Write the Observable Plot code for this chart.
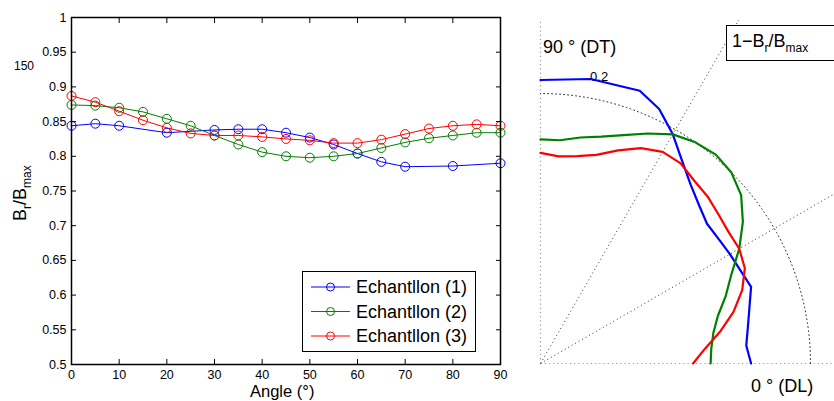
<!DOCTYPE html>
<html><head><meta charset="utf-8">
<script src="https://cdn.jsdelivr.net/npm/d3@7"></script>
<script src="https://cdn.jsdelivr.net/npm/@observablehq/plot@0.6"></script>
<style>
html,body{margin:0;padding:0;background:#fff;}
#wrap{position:relative;width:834px;height:401px;overflow:hidden;font-family:"Liberation Sans",Arial,sans-serif;}
#wrap > svg, #wrap > .p {position:absolute;top:0;}
</style></head><body><div id="wrap"></div>
<script>
// ---- data ----
const anglesFull = [0,5,10,15,20,25,30,35,40,45,50,55,60,65,70,75,80,85,90];
const angles1 = [0,5,10,20,30,35,40,45,50,55,60,65,70,80,90];
const ech1 = [0.844,0.847,0.844,0.834,0.838,0.839,0.839,0.834,0.827,0.817,0.804,0.792,0.785,0.786,0.790];
const ech2 = [0.874,0.873,0.870,0.864,0.854,0.844,0.830,0.817,0.806,0.800,0.798,0.800,0.804,0.812,0.820,0.826,0.830,0.834,0.834];
const ech3 = [0.887,0.878,0.865,0.852,0.841,0.833,0.830,0.830,0.828,0.825,0.823,0.819,0.819,0.824,0.832,0.840,0.844,0.846,0.844];
const seriesNames = ["Echantllon (1)","Echantllon (2)","Echantllon (3)"];
const seriesColors = ["#0000ff","#008000","#ff0000"];
const xTicks = [0,10,20,30,40,50,60,70,80,90];
const yTicks = [0.5,0.55,0.6,0.65,0.7,0.75,0.8,0.85,0.9,0.95,1];
const polarRings = [0.2];
const polarRingLabels = ["0.2"];
const polarSpokesDark = [30,60];
const polarSpokesLight = [0,90];

const series = [
  {name: seriesNames[0], color: seriesColors[0], angles: angles1, values: ech1},
  {name: seriesNames[1], color: seriesColors[1], angles: anglesFull, values: ech2},
  {name: seriesNames[2], color: seriesColors[2], angles: anglesFull, values: ech3}
];
const rows = series.map(s => s.angles.map((a, i) => ({angle: a, v: s.values[i], name: s.name})));

const font = "Liberation Sans, Arial, sans-serif";
const fmt = d => String(+d.toFixed(2));
const wrap = document.getElementById("wrap");

// ---- left chart ----
const left = Plot.plot({
  width: 520, height: 401,
  marginLeft: 71, marginRight: 20, marginTop: 17, marginBottom: 37,
  style: {fontFamily: font, fontSize: "12.5px", background: "transparent", color: "#000", overflow: "visible"},
  x: {domain: [0, 90]},
  y: {domain: [0.5, 1]},
  marks: [
    ...series.map((s, k) => Plot.line(rows[k], {x: "angle", y: "v", stroke: s.color, strokeWidth: 1})),
    ...series.map((s, k) => Plot.dot(rows[k], {x: "angle", y: "v", stroke: s.color, r: 4.5, strokeWidth: 1, fill: "none"})),
    Plot.axisX(xTicks, {anchor: "bottom", tickSize: -5, tickPadding: 11, label: null, tickFormat: fmt, stroke: "#000"}),
    Plot.axisX(xTicks, {anchor: "top", tickSize: -5, tickPadding: 0, label: null, tickFormat: () => "", stroke: "#000"}),
    Plot.axisY(yTicks, {anchor: "left", tickSize: -5, tickPadding: 10, label: null, tickFormat: fmt, stroke: "#000"}),
    Plot.axisY(yTicks, {anchor: "right", tickSize: -5, tickPadding: 0, label: null, tickFormat: () => "", stroke: "#000"}),
    Plot.frame({stroke: "#000", strokeWidth: 1.5})
  ]
});
left.classList.add("p");
left.style.left = "0px";
wrap.appendChild(left);

// ---- right polar chart ----
const PX = 1350; // pixels per unit of radius
const rMax = 0.5;
const polarRows = series.map((s, k) => rows[k].map(d => {
  const t = d.angle * Math.PI / 180, r = 1 - d.v;
  return {x: r * Math.cos(t), y: r * Math.sin(t), name: d.name};
}));
const ringPts = polarRings.flatMap(r => d3.range(0, 90.01, 0.5).map(a => ({ring: r, x: r * Math.cos(a * Math.PI / 180), y: r * Math.sin(a * Math.PI / 180)})));
const spoke = a => ({x1: 0, y1: 0, x2: rMax * Math.cos(a * Math.PI / 180), y2: rMax * Math.sin(a * Math.PI / 180)});
const labelAngle = 79 * Math.PI / 180;
const ringLabelRows = polarRings.map((r, i) => ({label: polarRingLabels[i], x: r * 1.08 * Math.cos(labelAngle), y: r * 1.08 * Math.sin(labelAngle)}));

const right = Plot.plot({
  width: 314, height: 401,
  marginLeft: 0, marginRight: 0, marginTop: 20, marginBottom: 33,
  style: {fontFamily: font, fontSize: "13px", background: "transparent", color: "#000"},
  x: {domain: [-20 / PX, 294 / PX], axis: null},
  y: {domain: [-5 / PX, 343 / PX], axis: null},
  marks: [
    Plot.link(polarSpokesLight.map(spoke), {x1: "x1", y1: "y1", x2: "x2", y2: "y2", stroke: "#9a9a9a", strokeWidth: 1.2, strokeDasharray: "1.2,3", clip: true}),
    Plot.link(polarSpokesDark.map(spoke), {x1: "x1", y1: "y1", x2: "x2", y2: "y2", stroke: "#333", strokeWidth: 1, strokeDasharray: "1,3", clip: true}),
    Plot.line(ringPts, {x: "x", y: "y", z: "ring", stroke: "#333", strokeWidth: 1, strokeDasharray: "1,3", clip: true}),
    Plot.text(ringLabelRows, {x: "x", y: "y", text: "label", fill: "#000", fontSize: 13, dx: 3}),
    ...series.map((s, k) => Plot.line(polarRows[k], {x: "x", y: "y", stroke: s.color, strokeWidth: 2.2, clip: true}))
  ]
});
right.classList.add("p");
right.style.left = "520px";
wrap.appendChild(right);

// ---- overlay: labels and legends ----
const ov = d3.select(wrap).append("svg").attr("width", 834).attr("height", 401)
  .style("position", "absolute").style("left", "0px").style("top", "0px")
  .style("font-family", font);

ov.append("text").attr("x", 14).attr("y", 70).attr("font-size", 12).text("150");

// y label
const yl = ov.append("text").attr("transform", "translate(26,221) rotate(-90)").attr("font-size", 18);
yl.append("tspan").text("B");
yl.append("tspan").attr("font-size", 12).attr("dy", 5).text("r");
yl.append("tspan").attr("dy", -5).text("/B");
yl.append("tspan").attr("font-size", 12).attr("dy", 5).text("max");

// x label
ov.append("text").attr("x", 250).attr("y", 397).attr("font-size", 16.5).text("Angle (°)");

// left legend
const lg = ov.append("g");
lg.append("rect").attr("x", 302.5).attr("y", 271.5).attr("width", 173).attr("height", 80)
  .attr("fill", "#fff").attr("stroke", "#000").attr("stroke-width", 1);
series.forEach((s, k) => {
  const cy = 287 + k * 24.5;
  lg.append("line").attr("x1", 311).attr("x2", 350).attr("y1", cy).attr("y2", cy).attr("stroke", s.color).attr("stroke-width", 1);
  lg.append("circle").attr("cx", 330.5).attr("cy", cy).attr("r", 4).attr("fill", "none").attr("stroke", s.color);
  lg.append("text").attr("x", 356).attr("y", cy + 6).attr("font-size", 18).text(s.name);
});

// polar labels
ov.append("text").attr("x", 543).attr("y", 53).attr("font-size", 18).text("90 ° (DT)");
ov.append("text").attr("x", 751).attr("y", 391.5).attr("font-size", 18).text("0 ° (DL)");

// polar legend
ov.append("rect").attr("x", 726.5).attr("y", 25.5).attr("width", 120).attr("height", 35)
  .attr("fill", "#fff").attr("stroke", "#000").attr("stroke-width", 1);
const pl = ov.append("text").attr("x", 732).attr("y", 47).attr("font-size", 18);
pl.append("tspan").text("1−B");
pl.append("tspan").attr("font-size", 12).attr("dy", 5).text("r");
pl.append("tspan").attr("dy", -5).text("/B");
pl.append("tspan").attr("font-size", 12).attr("dy", 5).text("max");
</script>
</body></html>
